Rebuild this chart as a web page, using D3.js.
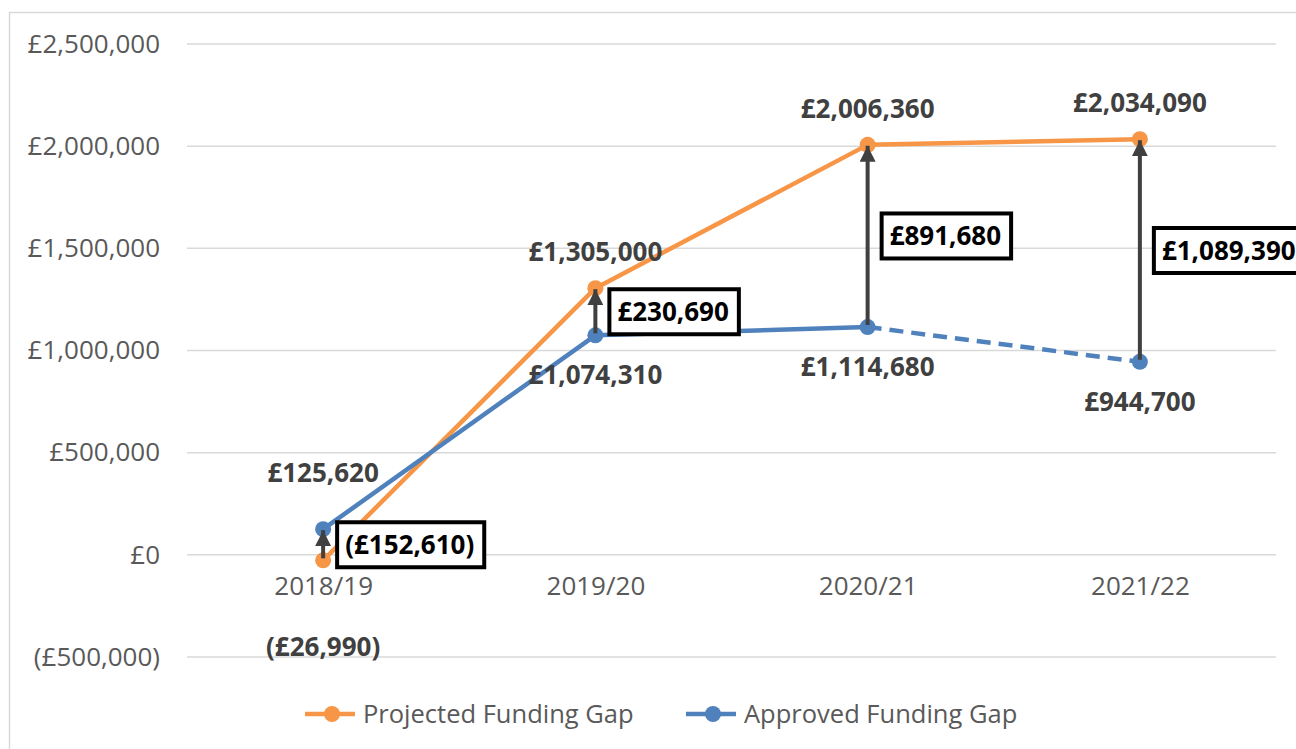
<!DOCTYPE html>
<html>
<head>
<meta charset="utf-8">
<script src="https://cdn.jsdelivr.net/npm/d3@7"></script>
<style>
  body { margin: 0; background: #fff; }
  text { font-family: "Open Sans", "Noto Sans", sans-serif; }
</style>
</head>
<body>
<div id="chart"></div>
<script>
// chart data
var years = ["2018/19", "2019/20", "2020/21", "2021/22"];
var projected = [-26990, 1305000, 2006360, 2034090];
var approved = [125620, 1074310, 1114680, 944700];
var gaps = [-152610, 230690, 891680, 1089390];
var yTicks = [-500000, 0, 500000, 1000000, 1500000, 2000000, 2500000];

// label placement (above / below the point)
var projectedLabelPos = ["low", "above", "above", "above"];
var approvedLabelPos = ["above", "below", "below", "below"];

var W = 1296, H = 749;
var margin = {top: 44, right: 20, bottom: 92, left: 187};
var width = 1276 - margin.left,
    height = 657 - margin.top;

var orange = "#f79646", blue = "#4f81bd", grey = "#595959", dark = "#404040";

var fmt = function(v) {
  var s = "£" + d3.format(",")(Math.abs(v));
  return v < 0 ? "(" + s + ")" : s;
};

var x = d3.scalePoint().domain(years).range([0, width]).padding(0.5);
var y = d3.scaleLinear().domain([-500000, 2500000]).range([height, 0]);

var svg = d3.select("#chart").append("svg")
  .attr("width", W).attr("height", H);

// chart frame
svg.append("rect")
  .attr("x", 9.5).attr("y", 12.5)
  .attr("width", 1300).attr("height", 745)
  .attr("fill", "none").attr("stroke", "#d9d9d9").attr("stroke-width", 1.5);

var g = svg.append("g")
  .attr("transform", "translate(" + margin.left + "," + margin.top + ")");

// gridlines
g.selectAll(".grid")
  .data(yTicks)
  .enter().append("line")
  .attr("x1", 0).attr("x2", width)
  .attr("y1", function(d) { return y(d); })
  .attr("y2", function(d) { return y(d); })
  .attr("stroke", "#d9d9d9").attr("stroke-width", 1.5);

// y axis
var yAxis = d3.axisLeft(y).tickValues(yTicks).tickSize(0).tickPadding(27).tickFormat(fmt);
g.append("g").attr("class", "y axis").call(yAxis)
  .call(function(s) { s.select(".domain").remove(); })
  .selectAll("text")
  .style("font-size", "26px").attr("fill", grey)
  .style("font-family", "'Open Sans', sans-serif");

// x axis
var xAxis = d3.axisBottom(x).tickSize(0).tickPadding(22);
g.append("g").attr("class", "x axis")
  .attr("transform", "translate(0," + y(0) + ")")
  .call(xAxis)
  .call(function(s) { s.select(".domain").remove(); })
  .selectAll("text")
  .style("font-size", "26px").attr("fill", grey)
  .style("font-family", "'Open Sans', sans-serif");

// lines
var line = d3.line()
  .x(function(d) { return x(d.year); })
  .y(function(d) { return y(d.value); });

var projData = years.map(function(yr, i) { return {year: yr, value: projected[i]}; });
var apprData = years.map(function(yr, i) { return {year: yr, value: approved[i]}; });

g.append("path").datum(projData)
  .attr("d", line).attr("fill", "none")
  .attr("stroke", orange).attr("stroke-width", 4.5).attr("stroke-linejoin", "round");

g.append("path").datum(apprData.slice(0, 3))
  .attr("d", line).attr("fill", "none")
  .attr("stroke", blue).attr("stroke-width", 4.5).attr("stroke-linejoin", "round");

g.append("path").datum(apprData.slice(2))
  .attr("d", line).attr("fill", "none")
  .attr("stroke", blue).attr("stroke-width", 4.5)
  .attr("stroke-dasharray", "14,8");

// markers
g.selectAll(".pdot").data(projData).enter().append("circle")
  .attr("cx", function(d) { return x(d.year); })
  .attr("cy", function(d) { return y(d.value); })
  .attr("r", 8).attr("fill", orange);

g.selectAll(".adot").data(apprData).enter().append("circle")
  .attr("cx", function(d) { return x(d.year); })
  .attr("cy", function(d) { return y(d.value); })
  .attr("r", 8).attr("fill", blue);

// gap arrows
svg.append("defs").append("marker")
  .attr("id", "head")
  .attr("viewBox", "0 0 10 10")
  .attr("refX", 10).attr("refY", 5)
  .attr("markerWidth", 4).attr("markerHeight", 4)
  .attr("markerUnits", "strokeWidth")
  .attr("orient", "auto")
  .append("path").attr("d", "M0,0L10,5L0,10Z").attr("fill", dark);

years.forEach(function(yr, i) {
  var lo = Math.min(projected[i], approved[i]);
  var hi = Math.max(projected[i], approved[i]);
  g.append("line")
    .attr("x1", x(yr)).attr("x2", x(yr))
    .attr("y1", y(lo) - 2).attr("y2", y(hi) + 1)
    .attr("stroke", dark).attr("stroke-width", 4)
    .attr("marker-end", "url(#head)");
});

// gap boxes
years.forEach(function(yr, i) {
  var cy = (y(projected[i]) + y(approved[i])) / 2;
  var bx = x(yr) + 14;
  var t = g.append("text")
    .attr("x", bx + 8).attr("y", cy)
    .attr("dy", "0.35em")
    .attr("font-size", "26px").attr("font-weight", "bold")
    .attr("fill", "#000")
    .text(fmt(gaps[i]));
  var bb = t.node().getBBox();
  g.insert("rect", function() { return t.node(); })
    .attr("x", bx).attr("y", cy - 22.5)
    .attr("width", bb.width + 18).attr("height", 45)
    .attr("fill", "#fff").attr("stroke", "#000").attr("stroke-width", 4);
});

// value labels
function addLabels(data, pos) {
  g.selectAll(null).data(data).enter().append("text")
    .attr("x", function(d) { return x(d.year); })
    .attr("y", function(d, i) {
      var py = y(d.value);
      if (pos[i] === "above") return py - (d.year === years[0] ? 56 : 36);
      if (pos[i] === "low") return py + 87;
      return py + 40;
    })
    .attr("dy", "0.35em")
    .attr("text-anchor", "middle")
    .attr("font-size", "26px").attr("font-weight", "bold")
    .attr("fill", dark)
    .text(function(d) { return fmt(d.value); });
}
addLabels(projData, projectedLabelPos);
addLabels(apprData, approvedLabelPos);

// legend
var legend = svg.append("g").attr("transform", "translate(0,714)");
var items = [
  {name: "Projected Funding Gap", color: orange, x: 305},
  {name: "Approved Funding Gap", color: blue, x: 686}
];
items.forEach(function(it) {
  legend.append("line")
    .attr("x1", it.x).attr("x2", it.x + 50)
    .attr("stroke", it.color).attr("stroke-width", 4.5);
  legend.append("circle")
    .attr("cx", it.x + 27).attr("r", 8).attr("fill", it.color);
  legend.append("text")
    .attr("x", it.x + 58).attr("dy", "0.35em")
    .attr("font-size", "25.5px").attr("fill", grey)
    .text(it.name);
});
</script>
</body>
</html>
